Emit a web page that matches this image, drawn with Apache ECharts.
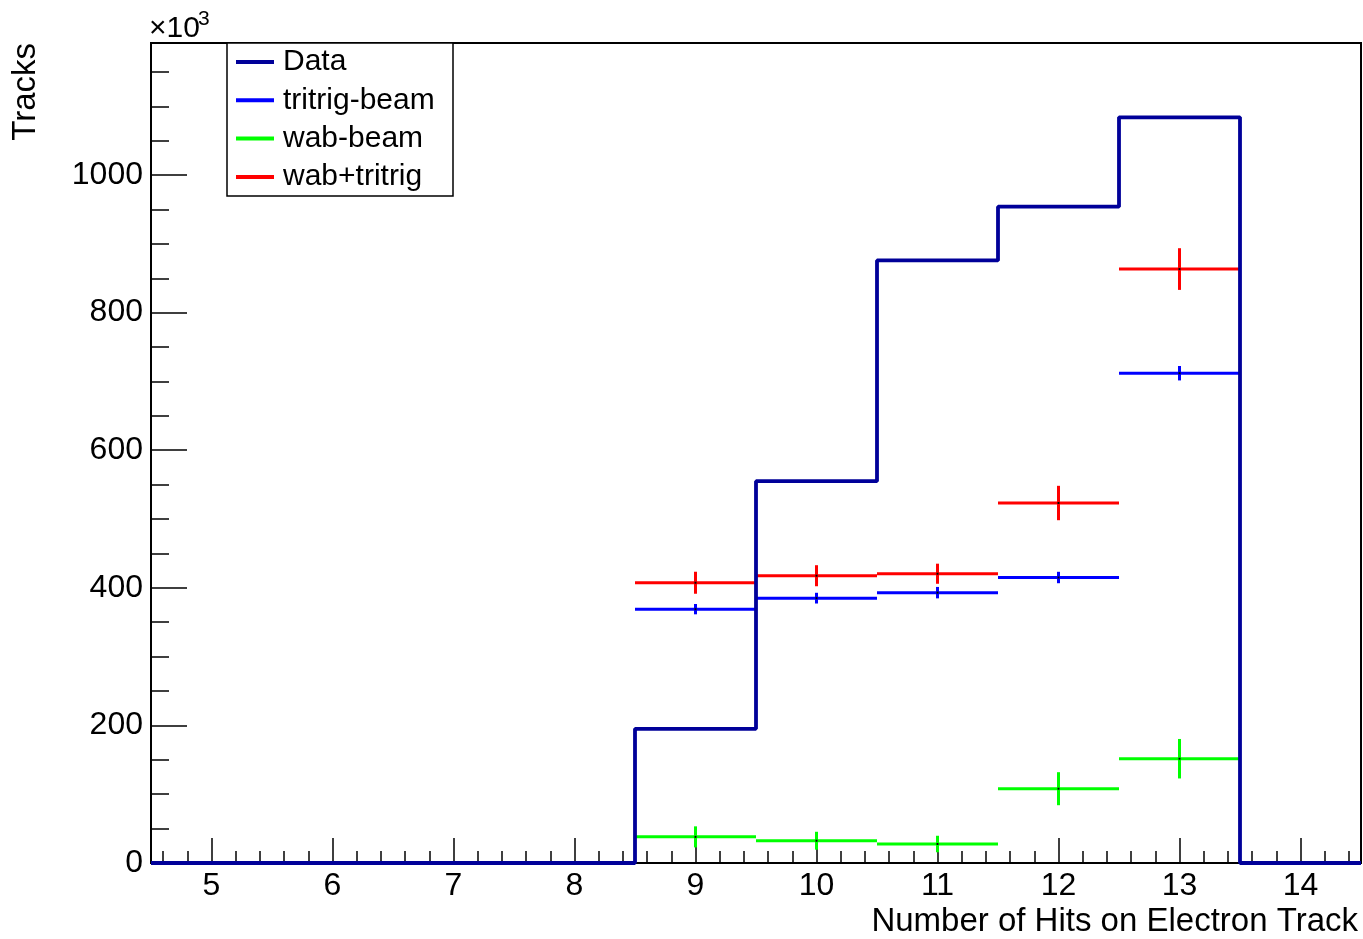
<!DOCTYPE html>
<html><head><meta charset="utf-8">
<script src="https://cdn.jsdelivr.net/npm/echarts@6/dist/echarts.min.js"></script>
<style>html,body{margin:0;padding:0;background:#fff}#c{width:1363px;height:939px}</style>
</head><body><div id="c"></div><script>
// ---- data (values in units of 10^3 tracks) ----
const binCenters = [5, 6, 7, 8, 9, 10, 11, 12, 13, 14];
const dataValues = [0, 0, 0, 0, 195, 555, 876, 954, 1084, 0];
const mcBins = [9, 10, 11, 12, 13];
const tritrigValues = [369, 385, 393, 415, 712];
const tritrigErrors = [7.5, 7.8, 8.3, 8.3, 10.5];
const wabValues = [38, 32.4, 27.6, 108, 151.6];
const wabErrors = [15.3, 13, 12, 24, 28.7];
const sumValues = [407.4, 417.6, 420.5, 523.3, 863.4];
const sumErrors = [16, 15.3, 14.6, 25, 30.3];
const xTickLabels = [5, 6, 7, 8, 9, 10, 11, 12, 13, 14];
const yTickLabels = [0, 200, 400, 600, 800, 1000];
const seriesNames = ['Data', 'tritrig-beam', 'wab-beam', 'wab+tritrig'];
const xTitle = 'Number of Hits on Electron Track';
const yTitle = 'Tracks';

// ---- axis ranges / minor ticks ----
const xMin = 4.5, xMax = 14.5, yMin = 0, yMax = 1192;
const xMinor = [];
for (let v = 46; v <= 144; v += 2) { if (v % 10 !== 0) xMinor.push(v / 10); }
const yMinor = [];
for (let v = 50; v < yMax; v += 50) { if (v % 200 !== 0) yMinor.push(v); }

const FONT = '"Liberation Sans", Arial, Helvetica, sans-serif';

// step histogram polyline built from bin values
const dataLine = [];
binCenters.forEach((c, i) => { dataLine.push([c - 0.5, dataValues[i]]); dataLine.push([c + 0.5, dataValues[i]]); });

function mcSeries(name, color, vals, errs) {
  return {
    type: 'custom', name: name, xAxisIndex: 0, yAxisIndex: 0, z: 3,
    itemStyle: { color: color },
    data: mcBins.map((b, i) => [b, vals[i], errs[i]]),
    renderItem: function (params, api) {
      const x = api.value(0), y = api.value(1), e = api.value(2);
      const p1 = api.coord([x - 0.5, y]), p2 = api.coord([x + 0.5, y]);
      const q1 = api.coord([x, y - e]), q2 = api.coord([x, y + e]);
      const c = api.coord([x, y]);
      return { type: 'group', children: [
        { type: 'line', shape: { x1: p1[0], y1: p1[1], x2: p2[0], y2: p2[1] }, style: { stroke: color, lineWidth: 3 } },
        { type: 'line', shape: { x1: q1[0], y1: q1[1], x2: q2[0], y2: q2[1] }, style: { stroke: color, lineWidth: 3 } },
        { type: 'rect', shape: { x: c[0] - 1, y: c[1] - 1, width: 2, height: 2 }, style: { fill: '#000' } }
      ] };
    }
  };
}

const chart = echarts.init(document.getElementById('c'), null, { renderer: 'canvas' });
const axisLineStyle = { color: '#000', width: 2 };
const plainFmt = v => String(v);
chart.setOption({
  animation: false,
  backgroundColor: '#fff',
  grid: { left: 151, right: 2, top: 43, bottom: 76, show: true, borderColor: '#000', borderWidth: 2, backgroundColor: 'transparent' },
  xAxis: [
    { type: 'value', min: xMin, max: xMax, position: 'bottom',
      axisLine: { show: true, lineStyle: axisLineStyle },
      axisTick: { show: true, inside: true, length: 25, customValues: xTickLabels, lineStyle: { color: '#000', width: 1.5 } },
      axisLabel: { show: true, customValues: xTickLabels, formatter: plainFmt, fontSize: 32, fontFamily: FONT, color: '#000', margin: 7 },
      splitLine: { show: false } },
    { type: 'value', min: xMin, max: xMax, position: 'bottom',
      axisLine: { show: false },
      axisTick: { show: true, inside: true, length: 12, customValues: xMinor, lineStyle: { color: '#000', width: 1.5 } },
      axisLabel: { show: false }, splitLine: { show: false } }
  ],
  yAxis: [
    { type: 'value', min: yMin, max: yMax, position: 'left',
      axisLine: { show: true, lineStyle: axisLineStyle },
      axisTick: { show: true, inside: true, length: 36, customValues: yTickLabels, lineStyle: { color: '#000', width: 1.5 } },
      axisLabel: { show: true, customValues: yTickLabels, formatter: plainFmt, fontSize: 32, fontFamily: FONT, color: '#000', margin: 8 },
      splitLine: { show: false } },
    { type: 'value', min: yMin, max: yMax, position: 'left',
      axisLine: { show: false },
      axisTick: { show: true, inside: true, length: 18, customValues: yMinor, lineStyle: { color: '#000', width: 1.5 } },
      axisLabel: { show: false }, splitLine: { show: false } }
  ],
  legend: {
    orient: 'vertical', left: 236, top: 47, padding: 0, itemGap: 8.3,
    itemWidth: 38, itemHeight: 4, icon: 'rect',
    textStyle: { fontSize: 30, fontFamily: FONT, color: '#000', lineHeight: 30, padding: [0, 0, 0, 4] },
    data: seriesNames
  },
  graphic: [
    { type: 'rect', z: 1, shape: { x: 227, y: 43, width: 226, height: 153 }, style: { fill: '#fff', stroke: '#000', lineWidth: 1.5 } },
    { type: 'text', x: 25.5, y: 43, rotation: Math.PI / 2, style: { text: yTitle, fontSize: 33, fontFamily: FONT, fill: '#000', textAlign: 'right', textVerticalAlign: 'middle' } },
    { type: 'text', x: 1358, y: 922, style: { text: xTitle, fontSize: 33, fontFamily: FONT, fill: '#000', textAlign: 'right', textVerticalAlign: 'middle' } },
    { type: 'text', x: 149, y: 29, style: { text: '\u00d710', fontSize: 30, fontFamily: FONT, fill: '#000', textAlign: 'left', textVerticalAlign: 'middle' } },
    { type: 'text', x: 198, y: 19, style: { text: '3', fontSize: 21, fontFamily: FONT, fill: '#000', textAlign: 'left', textVerticalAlign: 'middle' } }
  ],
  series: [
    { type: 'line', name: seriesNames[0], data: dataLine, xAxisIndex: 0, yAxisIndex: 0, z: 5,
      showSymbol: false, symbol: 'none', clip: false,
      lineStyle: { color: '#000099', width: 3.8 }, itemStyle: { color: '#000099' } },
    mcSeries(seriesNames[1], '#0000ff', tritrigValues, tritrigErrors),
    mcSeries(seriesNames[2], '#00ff00', wabValues, wabErrors),
    mcSeries(seriesNames[3], '#ff0000', sumValues, sumErrors)
  ]
});
</script></body></html>
